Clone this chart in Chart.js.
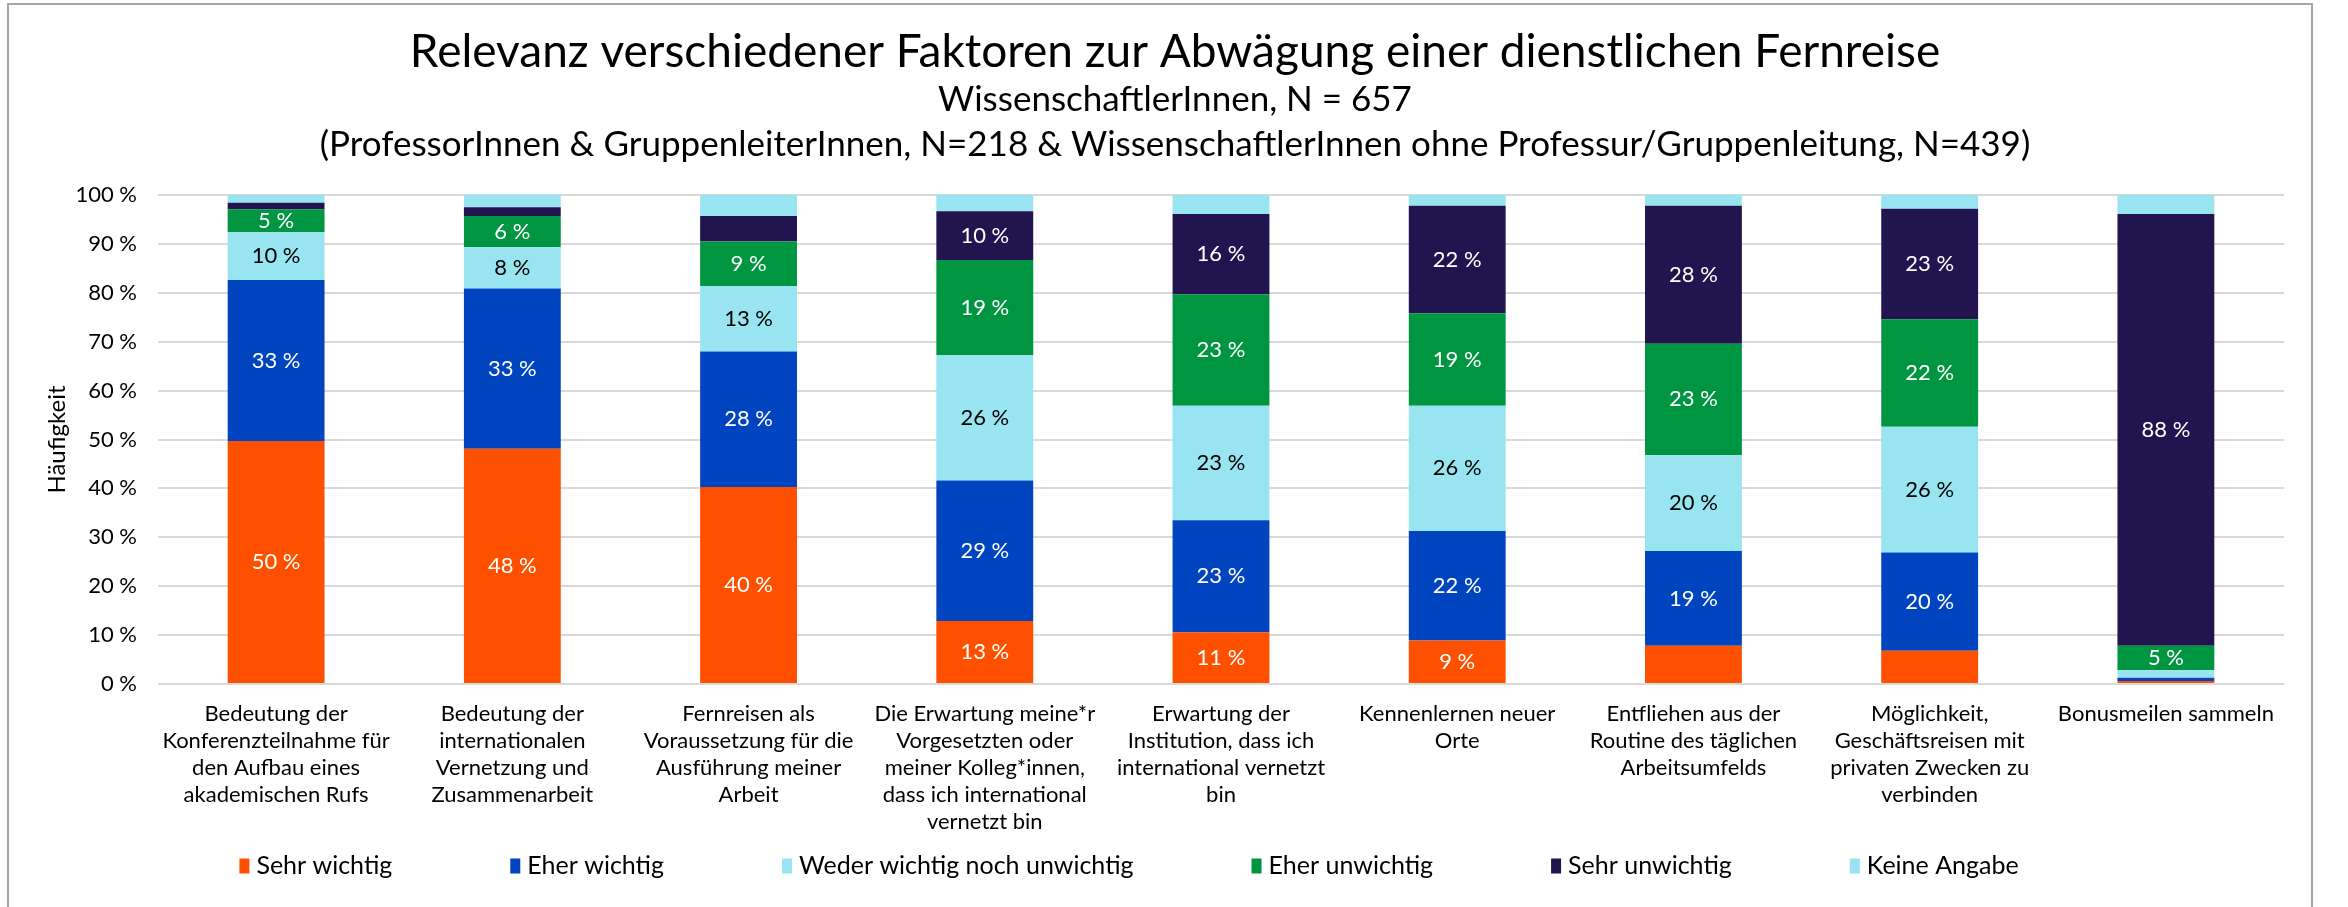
<!DOCTYPE html>
<html>
<head>
<meta charset="utf-8">
<title>Relevanz verschiedener Faktoren</title>
<script src="https://cdn.jsdelivr.net/npm/chart.js@4.4.1/dist/chart.umd.min.js"></script>
<style>
    html, body { margin: 0; padding: 0; background: #fff; overflow: hidden; }
    #frame {
        position: absolute; left: 7px; top: 3px;
        width: 2306px; height: 912px;
        border: 2px solid #a6a6a6; box-sizing: border-box;
    }
    #chartBox { position: relative; width: 2302px; height: 905px; }
</style>
</head>
<body>
<div id="frame">
    <div id="chartBox"><canvas id="combinedChart"></canvas></div>
</div>
<script>
    // categories (x axis)
    const factors = [
        ['Bedeutung der', 'Konferenzteilnahme für', 'den Aufbau eines', 'akademischen Rufs'],
        ['Bedeutung der', 'internationalen', 'Vernetzung und', 'Zusammenarbeit'],
        ['Fernreisen als', 'Voraussetzung für die', 'Ausführung meiner', 'Arbeit'],
        ['Die Erwartung meine*r', 'Vorgesetzten oder', 'meiner Kolleg*innen,', 'dass ich international', 'vernetzt bin'],
        ['Erwartung der', 'Institution, dass ich', 'international vernetzt', 'bin'],
        ['Kennenlernen neuer', 'Orte'],
        ['Entfliehen aus der', 'Routine des täglichen', 'Arbeitsumfelds'],
        ['Möglichkeit,', 'Geschäftsreisen mit', 'privaten Zwecken zu', 'verbinden'],
        ['Bonusmeilen sammeln']
    ];

    // series values in percent
    const sehrWichtig    = [49.7, 48.1, 40.3, 12.9, 10.6,  8.9,  7.8,  6.8,  0.6];
    const eherWichtig    = [32.9, 32.8, 27.7, 28.7, 22.9, 22.4, 19.4, 20.1,  0.7];
    const weder          = [ 9.8,  8.4, 13.4, 25.7, 23.4, 25.6, 19.6, 25.7,  1.5];
    const eherUnwichtig  = [ 4.7,  6.4,  9.1, 19.4, 22.8, 18.9, 22.8, 22.0,  5.0];
    const sehrUnwichtig  = [ 1.3,  1.8,  5.2, 10.0, 16.4, 22.0, 28.2, 22.6, 88.3];
    const keineAngabe    = [ 1.6,  2.5,  4.3,  3.3,  3.9,  2.2,  2.2,  2.8,  3.9];

    // which segments carry a value label in the original
    const showSehrWichtig   = [1, 1, 1, 1, 1, 1, 0, 0, 0];
    const showEherWichtig   = [1, 1, 1, 1, 1, 1, 1, 1, 0];
    const showWeder         = [1, 1, 1, 1, 1, 1, 1, 1, 0];
    const showEherUnwichtig = [1, 1, 1, 1, 1, 1, 1, 1, 1];
    const showSehrUnwichtig = [0, 0, 0, 1, 1, 1, 1, 1, 1];
    const showKeineAngabe   = [0, 0, 0, 0, 0, 0, 0, 0, 0];

    const yTicks = [0, 10, 20, 30, 40, 50, 60, 70, 80, 90, 100];

    const FONT = 'Lato';

    const series = [
        { label: 'Sehr wichtig', data: sehrWichtig, color: '#ff5000', text: '#ffffff', show: showSehrWichtig },
        { label: 'Eher wichtig', data: eherWichtig, color: '#0044bf', text: '#ffffff', show: showEherWichtig },
        { label: 'Weder wichtig noch unwichtig', data: weder, color: '#98e4f1', text: '#000000', show: showWeder },
        { label: 'Eher unwichtig', data: eherUnwichtig, color: '#009540', text: '#ffffff', show: showEherUnwichtig },
        { label: 'Sehr unwichtig', data: sehrUnwichtig, color: '#21144f', text: '#ffffff', show: showSehrUnwichtig },
        { label: 'Keine Angabe', data: keineAngabe, color: '#98e4f1', text: '#000000', show: showKeineAngabe }
    ];

    // value labels in the middle of each segment
    const segmentLabels = {
        id: 'segmentLabels',
        afterDatasetsDraw(chart) {
            const ctx = chart.ctx;
            ctx.save();
            ctx.font = '22px ' + FONT;
            ctx.textAlign = 'center';
            ctx.textBaseline = 'middle';
            chart.data.datasets.forEach((ds, i) => {
                const meta = chart.getDatasetMeta(i);
                meta.data.forEach((bar, j) => {
                    if (!series[i].show[j]) return;
                    ctx.fillStyle = series[i].text;
                    ctx.fillText(Math.round(ds.data[j]) + ' %', bar.x, (bar.y + bar.base) / 2);
                });
            });
            ctx.restore();
        }
    };

    // legend drawn by hand: Excel keeps wide gaps between entries
    const bottomLegend = {
        id: 'bottomLegend',
        afterDraw(chart) {
            const ctx = chart.ctx;
            const boxW = 10, boxH = 15, boxGap = 7, itemGap = 118;
            const centerX = 1120, centerY = 861;
            ctx.save();
            ctx.font = '25px ' + FONT;
            ctx.textBaseline = 'middle';
            const widths = series.map(s => boxW + boxGap + ctx.measureText(s.label).width);
            const total = widths.reduce((a, b) => a + b, 0) + itemGap * (series.length - 1);
            let x = centerX - total / 2;
            series.forEach((s, i) => {
                ctx.fillStyle = s.color;
                ctx.fillRect(x, centerY - boxH / 2, boxW, boxH);
                ctx.fillStyle = '#000000';
                ctx.fillText(s.label, x + boxW + boxGap, centerY);
                x += widths[i] + itemGap;
            });
            ctx.restore();
        }
    };

    const combinedChart = new Chart(document.getElementById('combinedChart').getContext('2d'), {
        type: 'bar',
        data: {
            labels: factors,
            datasets: series.map(s => ({
                label: s.label,
                data: s.data,
                backgroundColor: s.color,
                borderWidth: 0,
                categoryPercentage: 1,
                barPercentage: 0.41
            }))
        },
        options: {
            responsive: true,
            maintainAspectRatio: false,
            animation: false,
            layout: {
                padding: { left: 30, right: 0, top: 0, bottom: 66 }
            },
            plugins: {
                legend: { display: false },
                tooltip: { enabled: false },
                title: {
                    display: true,
                    text: 'Relevanz verschiedener Faktoren zur Abwägung einer dienstlichen Fernreise',
                    color: '#000000',
                    font: { family: FONT, size: 46, weight: 'normal', lineHeight: 1.1 },
                    padding: { top: 21.7, bottom: 0 }
                },
                subtitle: {
                    display: true,
                    text: [
                        'WissenschaftlerInnen, N = 657',
                        '(ProfessorInnen & GruppenleiterInnen, N=218 & WissenschaftlerInnen ohne Professur/Gruppenleitung, N=439)'
                    ],
                    color: '#000000',
                    font: { family: FONT, size: 35, weight: 'normal', lineHeight: 45 / 35 },
                    padding: { top: 0, bottom: 27.7 }
                }
            },
            scales: {
                x: {
                    stacked: true,
                    grid: { display: false },
                    border: { display: false },
                    ticks: {
                        color: '#000000',
                        font: { family: FONT, size: 22, lineHeight: 27 / 22 },
                        padding: 8,
                        maxRotation: 0,
                        autoSkip: false
                    },
                    afterFit(scale) { scale.height = 160; }
                },
                y: {
                    stacked: true,
                    min: 0,
                    max: 100,
                    afterBuildTicks(scale) { scale.ticks = yTicks.map(v => ({ value: v })); },
                    grid: { color: '#d9d9d9', lineWidth: 2, drawTicks: false },
                    border: { display: false },
                    ticks: {
                        color: '#000000',
                        font: { family: FONT, size: 22 },
                        padding: 21,
                        callback: v => v + ' %'
                    },
                    title: {
                        display: true,
                        text: 'Häufigkeit',
                        color: '#000000',
                        font: { family: FONT, size: 24, lineHeight: 1.2 },
                        padding: { top: 3.6, bottom: 0 }
                    },
                    afterFit(scale) { scale.width = 119; }
                },
                // empty right-hand margin axis, keeps the titles centred like the original
                yRight: {
                    position: 'right',
                    grid: { display: false },
                    border: { display: false },
                    ticks: { display: false },
                    afterFit(scale) { scale.width = 27; }
                }
            }
        },
        plugins: [segmentLabels, bottomLegend]
    });
</script>
</body>
</html>
